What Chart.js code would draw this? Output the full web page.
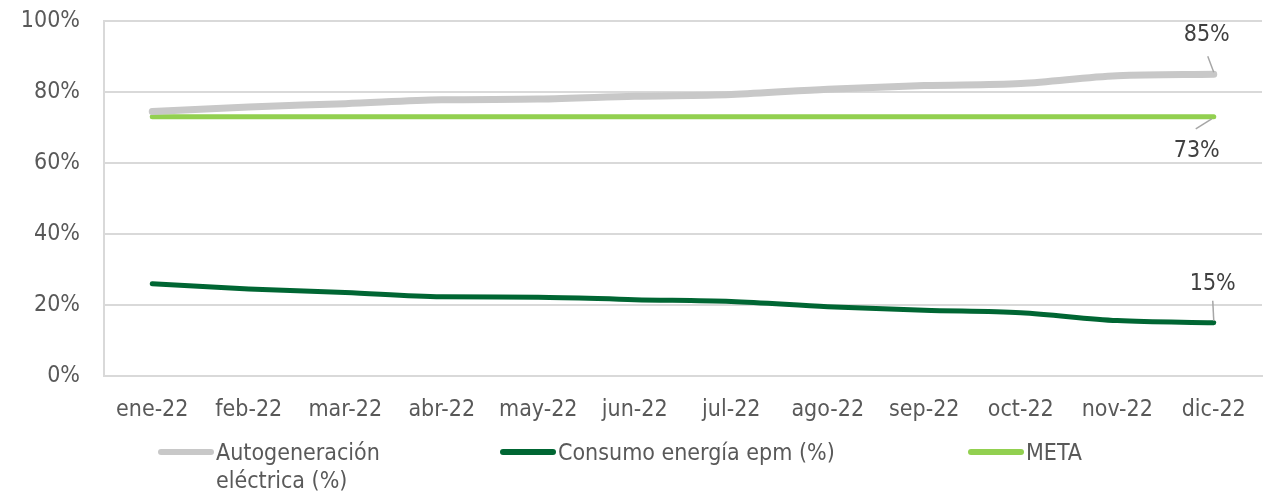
<!DOCTYPE html>
<html>
<head>
<meta charset="utf-8">
<script src="https://cdn.jsdelivr.net/npm/chart.js@4/dist/chart.umd.min.js"></script>
<style>
  html, body { margin: 0; padding: 0; background: #fff; }
  #wrap { position: relative; width: 1268px; height: 498px; }
  canvas { position: absolute; left: 0; top: 0; }
  .leg { position: absolute; font: 23px 'DejaVu Sans Condensed', 'DejaVu Sans', sans-serif; color: #595959; line-height: 28px; }
  .leg i { position: absolute; left: 0; top: 11px; width: 56px; height: 6px; border-radius: 3px; }
  .leg span { display: block; margin-left: 58px; }
</style>
</head>
<body>
<div id="wrap">
  <canvas id="c" width="1268" height="498"></canvas>
  <div class="leg" style="left:158px; top:438px;"><i style="background:#c8c8c8"></i><span>Autogeneración<br>eléctrica (%)</span></div>
  <div class="leg" style="left:500px; top:438px;"><i style="background:#006633"></i><span>Consumo energía epm (%)</span></div>
  <div class="leg" style="left:968px; top:438px;"><i style="background:#92d050"></i><span>META</span></div>
</div>
<script>
const MONTHS = ['ene-22', 'feb-22', 'mar-22', 'abr-22', 'may-22', 'jun-22', 'jul-22', 'ago-22', 'sep-22', 'oct-22', 'nov-22', 'dic-22']
const AUTOGEN = [74.5, 75.8, 76.7, 77.8, 78.0, 78.8, 79.3, 80.8, 81.8, 82.4, 84.6, 85.0]
const CONSUMO = [26.0, 24.5, 23.5, 22.3, 22.2, 21.5, 21.0, 19.5, 18.5, 17.8, 15.6, 15.0]
const META = [73, 73, 73, 73, 73, 73, 73, 73, 73, 73, 73, 73]
const Y_TICKS = [0, 20, 40, 60, 80, 100]

const FONT = "'DejaVu Sans Condensed', 'DejaVu Sans', sans-serif"
const TEXT = '#595959'

// label + leader line for the last point of each series
// [dataset index, text dx, text dy, leader from dx,dy, leader to dx,dy]
const END_LABELS = [
  [0, -7, -39, -6, -18, 0, -2],
  [2, -17, 34, -18, 12, -2, 2],
  [1, -1, -39, -1, -22, 0, -2],
]

const endLabels = {
  id: 'endLabels',
  afterDatasetsDraw(chart) {
    const ctx = chart.ctx
    ctx.save()
    ctx.font = '23px ' + FONT
    ctx.textAlign = 'center'
    ctx.textBaseline = 'middle'
    END_LABELS.forEach(([di, tx, ty, ax, ay, bx, by]) => {
      const data = chart.data.datasets[di].data
      const pt = chart.getDatasetMeta(di).data[data.length - 1]
      ctx.strokeStyle = '#a6a6a6'
      ctx.lineWidth = 1.5
      ctx.beginPath()
      ctx.moveTo(pt.x + ax, pt.y + ay)
      ctx.lineTo(pt.x + bx, pt.y + by)
      ctx.stroke()
      ctx.fillStyle = '#404040'
      ctx.fillText(Math.round(data[data.length - 1]) + '%', pt.x + tx, pt.y + ty)
    })
    ctx.restore()
  }
}

new Chart(document.getElementById('c'), {
  type: 'line',
  data: {
    labels: MONTHS,
    datasets: [
      { label: 'Autogeneración eléctrica (%)', data: AUTOGEN, borderColor: '#c8c8c8', borderWidth: 7, tension: 0.4, cubicInterpolationMode: 'monotone', pointRadius: 0, borderCapStyle: 'round' },
      { label: 'Consumo energía epm (%)', data: CONSUMO, borderColor: '#006633', borderWidth: 5, tension: 0.4, cubicInterpolationMode: 'monotone', pointRadius: 0, borderCapStyle: 'round' },
      { label: 'META', data: META, borderColor: '#92d050', borderWidth: 5, pointRadius: 0, borderCapStyle: 'round' },
    ],
  },
  options: {
    responsive: false,
    animation: false,
    layout: { padding: { top: 21, right: 6, left: 0, bottom: 0 } },
    plugins: { legend: { display: false }, tooltip: { enabled: false } },
    scales: {
      x: {
        offset: true,
        grid: { display: false, offset: true },
        border: { color: '#d9d9d9', width: 2 },
        ticks: { color: TEXT, font: { size: 23, family: FONT }, padding: 12, maxRotation: 0, autoSkip: false },
        afterFit(scale) { scale.height = 122; scale.paddingLeft = 0; scale.paddingRight = 0 },
      },
      y: {
        min: 0,
        max: 100,
        afterBuildTicks(scale) { scale.ticks = Y_TICKS.map(v => ({ value: v })) },
        grid: { color: '#d9d9d9', lineWidth: 2, drawTicks: false },
        border: { color: '#d9d9d9', width: 2 },
        ticks: { color: TEXT, font: { size: 23, family: FONT }, padding: 24, callback: v => v + '%' },
        afterFit(scale) { scale.width = 104; scale.paddingTop = 0; scale.paddingBottom = 0 },
      },
    },
  },
  plugins: [endLabels],
})
</script>
</body>
</html>
